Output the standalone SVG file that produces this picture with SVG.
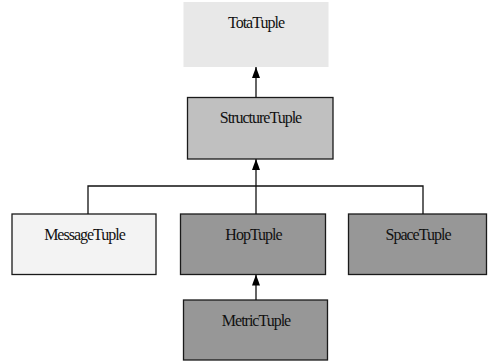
<svg xmlns="http://www.w3.org/2000/svg" width="489" height="361" viewBox="0 0 489 361">
<style>
.box{stroke:#1a1a1a;stroke-width:1.3}
.lbl{font-family:'Liberation Serif','Times New Roman',serif;font-size:16px;letter-spacing:-1px;text-anchor:middle;fill:#111}
.edge{stroke:#111;stroke-width:1.3;fill:none}
</style>
<defs>
<marker id="arr" markerWidth="11" markerHeight="8" refX="11" refY="4" orient="auto" markerUnits="userSpaceOnUse" viewBox="0 0 11 8">
<path d="M0,0 L11,4 L0,8 Z" fill="#000"/>
</marker>
</defs>
<rect width="489" height="361" fill="#fff"/>
<g id="TotaTuple">
<rect x="183.5" y="2" width="145" height="65" fill="#e8e8e8"/>
<text class="lbl" x="256" y="28">TotaTuple</text>
</g>
<g id="StructureTuple">
<rect class="box" x="187.5" y="97.5" width="145.5" height="61.5" fill="#c0c0c0"/>
<text class="lbl" x="260.5" y="123">StructureTuple</text>
</g>
<g id="MessageTuple">
<rect class="box" x="12" y="214" width="144" height="60.5" fill="#f3f3f3" stroke="#333"/>
<text class="lbl" x="84.5" y="240">MessageTuple</text>
</g>
<g id="HopTuple">
<rect class="box" x="180.5" y="214" width="145" height="60.5" fill="#979797"/>
<text class="lbl" x="253.5" y="240">HopTuple</text>
</g>
<g id="SpaceTuple">
<rect class="box" x="348.5" y="214" width="138" height="60.5" fill="#979797"/>
<text class="lbl" x="418" y="240">SpaceTuple</text>
</g>
<g id="MetricTuple">
<rect class="box" x="183.5" y="300" width="144" height="60" fill="#979797"/>
<text class="lbl" x="256" y="326">MetricTuple</text>
</g>
<g id="connectors">
<line class="edge" x1="256" y1="97.5" x2="256" y2="67" marker-end="url(#arr)"/>
<line class="edge" x1="256" y1="214" x2="256" y2="159" marker-end="url(#arr)"/>
<polyline class="edge" points="88,214 88,186 423,186 423,214"/>
<line class="edge" x1="256" y1="300" x2="256" y2="274.5" marker-end="url(#arr)"/>
</g>
</svg>
